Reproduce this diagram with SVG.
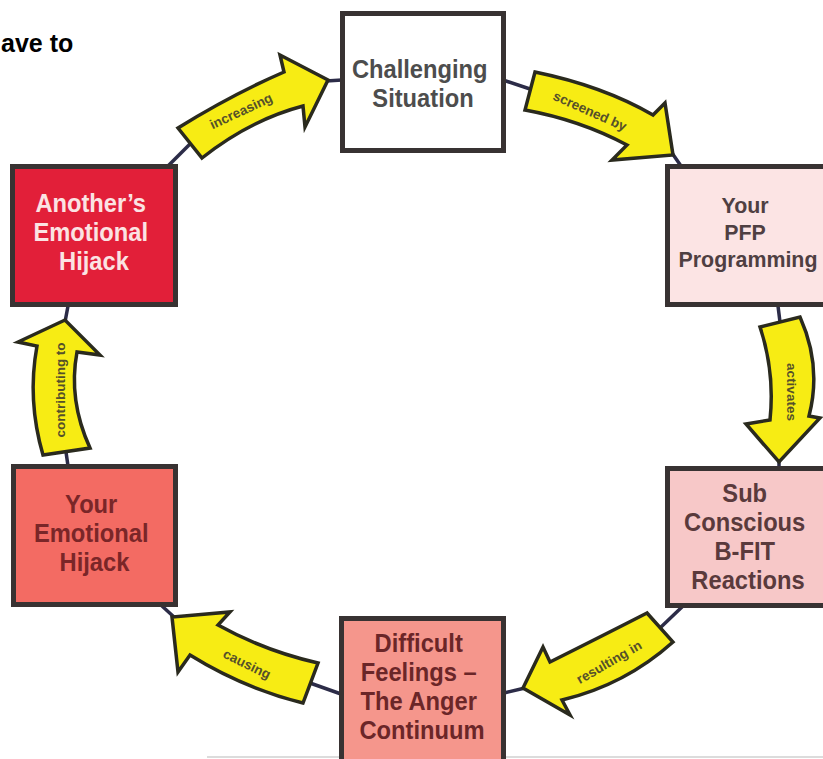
<svg xmlns="http://www.w3.org/2000/svg" width="823" height="759" viewBox="0 0 823 759">
  <style>
    .box rect { stroke: #383232; stroke-width: 5; }
    .box text { font-family: "Liberation Sans", Arial, sans-serif; font-weight: bold; text-anchor: middle; }
    .link { stroke: #2c2c48; stroke-width: 3.5; fill: none; stroke-linecap: round; }
    .arrow { fill: #f7ec14; stroke: #2a2a1e; stroke-width: 3.5; stroke-linejoin: miter; }
    .lbl { font-family: "Liberation Sans", Arial, sans-serif; font-weight: bold; font-size: 13.5px; fill: #55502a; text-anchor: middle; }
    .head { font-family: "Liberation Sans", Arial, sans-serif; font-weight: bold; font-size: 25px; fill: #000; }
  </style>

  <rect x="0" y="0" width="823" height="759" fill="#ffffff"/>

  <!-- heading fragment at top-left -->
  <text class="head" x="1" y="52">ave to</text>

  <!-- baseline rule along the bottom -->
  <line x1="207" y1="757" x2="823" y2="757" stroke="#d0d0d0" stroke-width="1.5"/>

  <!-- connectors: thin links and curved block arrows -->
  <g id="connectors">
    <line class="link" x1="168" y1="166" x2="191" y2="143"/>
    <line class="link" x1="326" y1="81" x2="342" y2="80"/>
    <line class="link" x1="503" y1="80" x2="533" y2="90"/>
    <line class="link" x1="672" y1="153" x2="681" y2="166"/>
    <line class="link" x1="778" y1="306" x2="780" y2="322"/>
    <line class="link" x1="779" y1="460" x2="779" y2="468"/>
    <line class="link" x1="683" y1="606" x2="660" y2="628"/>
    <line class="link" x1="525" y1="688" x2="504" y2="693"/>
    <line class="link" x1="341" y1="694" x2="310" y2="683"/>
    <line class="link" x1="174" y1="617" x2="162" y2="606"/>
    <line class="link" x1="68" y1="466" x2="66" y2="452"/>
    <line class="link" x1="65" y1="322" x2="68" y2="306"/>

    <g id="arrow-increasing">
      <path class="arrow" d="M178,128 Q231,95 284,72 L280,55 L328,80 L305,127 L303,106 Q250,120 202,158 Z"/>
      <text class="lbl" transform="translate(241,111) rotate(-25)" dy="0.35em">increasing</text>
    </g>
    <g id="arrow-screened">
      <path class="arrow" d="M535,72 Q603,86 653,115 L665,103 L673,155 L612,160 L627,145 Q580,120 525,110 Z"/>
      <text class="lbl" transform="translate(590,111) rotate(24)" dy="0.35em">screened by</text>
    </g>
    <g id="arrow-activates">
      <path class="arrow" d="M760,327 Q775,372 770,420 L746,424 L779,462 L820,418 L809,416 Q822,366 800,317 Z"/>
      <text class="lbl" transform="translate(792,392) rotate(90)" dy="0.35em">activates</text>
    </g>
    <g id="arrow-resulting">
      <path class="arrow" d="M647,613 Q602,636 550,662 L543,647 L523,688 L570,715 L562,700 Q625,685 673,642 Z"/>
      <text class="lbl" transform="translate(609,662) rotate(-30)" dy="0.35em">resulting in</text>
    </g>
    <g id="arrow-causing">
      <path class="arrow" d="M318,663 Q265,651 218,625 L230,612 L172,617 L178,672 L190,655 Q243,688 303,703 Z"/>
      <text class="lbl" transform="translate(247,664) rotate(26)" dy="0.35em">causing</text>
    </g>
    <g id="arrow-contributing">
      <path class="arrow" d="M43,455 Q27,400 37,346 L18,342 L65,320 L100,355 L77,352 Q68,400 90,448 Z"/>
      <text class="lbl" transform="translate(60,390) rotate(-90)" dy="0.35em">contributing to</text>
    </g>
  </g>

  <!-- nodes: bold condensed labels, horizontally narrowed -->
  <g id="challenging-situation" class="box">
    <rect x="342.5" y="13.5" width="161" height="137" fill="#ffffff"/>
    <text transform="translate(423,0) scale(0.93,1)" font-size="25.5" fill="#4d4d4d">
      <tspan x="0" y="78.5">Challenging</tspan>
      <tspan x="0" y="107">Situation</tspan>
    </text>
  </g>

  <g id="pfp-programming" class="box">
    <rect x="667.5" y="166.5" width="165" height="138" fill="#fce4e4"/>
    <text transform="translate(748,0) scale(0.93,1)" font-size="23" fill="#4f3f42">
      <tspan x="0" y="213">Your</tspan>
      <tspan x="0" y="240">PFP</tspan>
      <tspan x="0" y="267">Programming</tspan>
    </text>
  </g>

  <g id="bfit-reactions" class="box">
    <rect x="667.5" y="468.5" width="165" height="137" fill="#f7c8c8"/>
    <text transform="translate(748,0) scale(0.93,1)" font-size="25.5" fill="#5a3a3c">
      <tspan x="0" y="502">Sub</tspan>
      <tspan x="0" y="531">Conscious</tspan>
      <tspan x="0" y="560">B-FIT</tspan>
      <tspan x="0" y="589">Reactions</tspan>
    </text>
  </g>

  <g id="difficult-feelings" class="box">
    <rect x="341.5" y="618.5" width="162" height="145" fill="#f5968c"/>
    <text transform="translate(422,0) scale(0.93,1)" font-size="25.5" fill="#6b2628">
      <tspan x="0" y="652">Difficult</tspan>
      <tspan x="0" y="681">Feelings –</tspan>
      <tspan x="0" y="710">The Anger</tspan>
      <tspan x="0" y="739">Continuum</tspan>
    </text>
  </g>

  <g id="your-emotional-hijack" class="box">
    <rect x="13.5" y="466.5" width="162" height="138" fill="#f36b63"/>
    <text transform="translate(94.5,0) scale(0.93,1)" font-size="25.5" fill="#7a2628">
      <tspan x="0" y="513">Your</tspan>
      <tspan x="0" y="542">Emotional</tspan>
      <tspan x="0" y="571">Hijack</tspan>
    </text>
  </g>

  <g id="anothers-emotional-hijack" class="box">
    <rect x="12.5" y="166.5" width="163" height="138" fill="#e21f39"/>
    <text transform="translate(94,0) scale(0.93,1)" font-size="25.5" fill="#fbe3e3">
      <tspan x="0" y="212">Another’s</tspan>
      <tspan x="0" y="241">Emotional</tspan>
      <tspan x="0" y="270">Hijack</tspan>
    </text>
  </g>
</svg>
